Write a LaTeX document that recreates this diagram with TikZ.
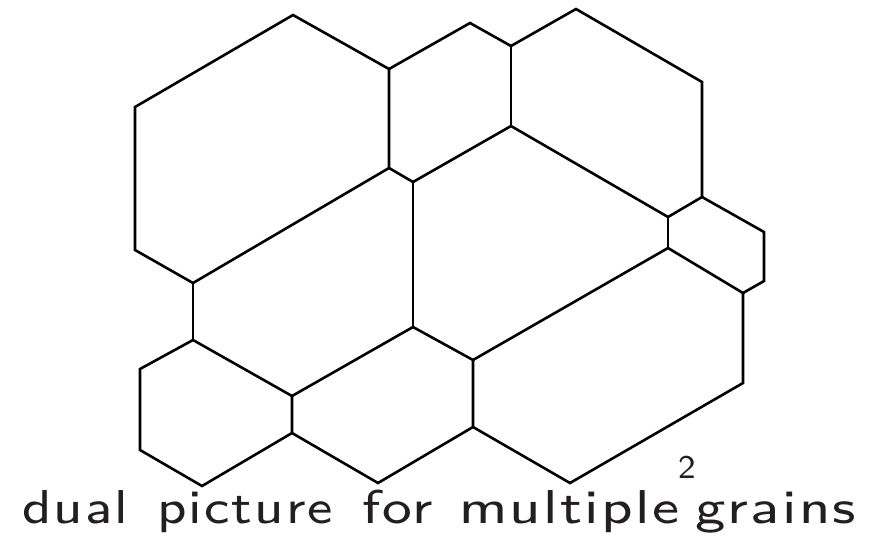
\documentclass[tikz,border=0pt]{standalone}
\usepackage{fontspec}
\usepackage{graphicx}
\newfontfamily\titlefont[LetterSpace=4]{lmsans8-regular.otf}
\newfontfamily\supfont{lmsans8-regular.otf}
\definecolor{txtgray}{HTML}{231F20}
\newcommand{\fitw}[2]{\resizebox{#1pt}{\height}{#2}}
\tikzset{edge/.style={line width=2.6pt, line join=miter, line cap=butt, black},
  lbl/.style={inner sep=0pt, text=txtgray, font=\titlefont\fontsize{47.5}{47.5}\selectfont},
  supl/.style={inner sep=0pt, text=txtgray, font=\supfont\fontsize{33}{33}\selectfont}}
\begin{document}
\begin{tikzpicture}[x=1pt,y=-1pt]
\useasboundingbox (0,0) rectangle (877,536);
% vertices
\coordinate (p1) at (193,283);
\coordinate (p2) at (135,250);
\coordinate (p3) at (135,107);
\coordinate (p4) at (293,15);
\coordinate (A) at (389,69);
\coordinate (B) at (389,168);
\coordinate (C) at (413,182);
\coordinate (t1) at (470,23);
\coordinate (D) at (511,46);
\coordinate (t2) at (576,9);
\coordinate (t3) at (702,82);
\coordinate (E) at (702,197);
\coordinate (F) at (511,126);
\coordinate (G) at (668,217);
\coordinate (H) at (668,248);
\coordinate (r1) at (764,232);
\coordinate (r2) at (764,281);
\coordinate (I) at (743,293);
\coordinate (r3) at (743,383);
\coordinate (b1) at (570,483);
\coordinate (O) at (473,427);
\coordinate (N) at (473,360);
\coordinate (M) at (413,327);
\coordinate (b2) at (378,483);
\coordinate (L) at (292,433);
\coordinate (K) at (292,396);
\coordinate (J) at (193,340);
\coordinate (b3) at (202,486);
\coordinate (l1) at (140,450);
\coordinate (l2) at (140,369);
% edges
\draw[edge] (p1) -- (p2) -- (p3) -- (p4) -- (A) -- (B) -- (p1);
\draw[edge] (A) -- (t1) -- (D) -- (t2) -- (t3) -- (E);
\draw[edge] (D) -- (F);
\draw[edge] (B) -- (C) -- (F);
\draw[edge] (F) -- (G) -- (E);
\draw[edge] (G) -- (H);
\draw[edge] (E) -- (r1) -- (r2) -- (I) -- (H);
\draw[edge] (I) -- (r3) -- (b1) -- (O);
\draw[edge] (H) -- (N);
\draw[edge] (C) -- (M);
\draw[edge] (M) -- (N) -- (O) -- (b2) -- (L);
\draw[edge] (M) -- (K);
\draw[edge] (p1) -- (J);
\draw[edge] (J) -- (K) -- (L) -- (b3) -- (l1) -- (l2) -- (J);
% text
\node[lbl, anchor=base west] (title) at (22,523)
  {\fitw{106}{dual}\hspace{29pt}\fitw{176}{picture}\hspace{29pt}\fitw{71}{for}\hspace{26pt}\fitw{220}{multiple}\hspace{16pt}\fitw{161}{grains}};
\node[supl, anchor=base] (two) at (687,478) {2};
\end{tikzpicture}
\end{document}
